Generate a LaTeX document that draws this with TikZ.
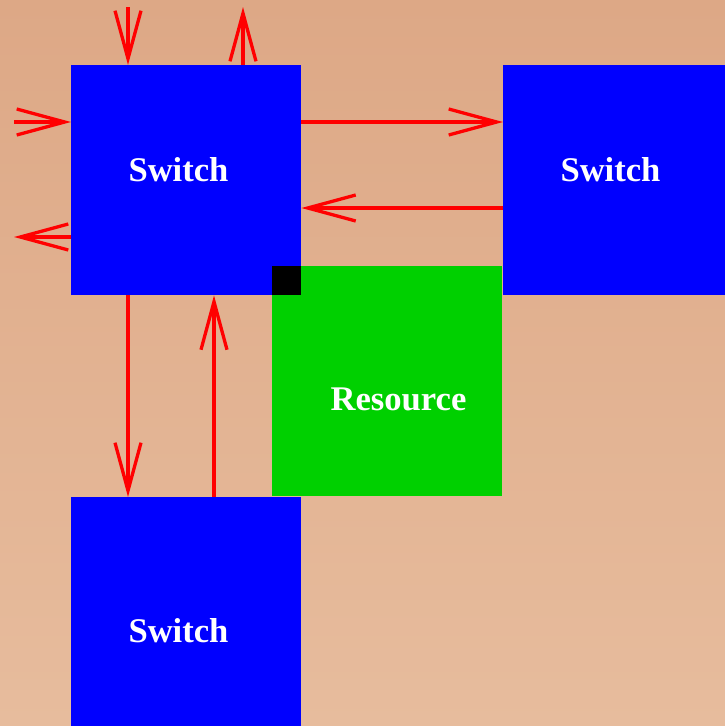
\documentclass[tikz,border=0pt]{standalone}
\usepackage{fontspec}
\setmainfont{Liberation Serif}
\usetikzlibrary{arrows.meta}
\definecolor{bgtop}{RGB}{221,168,134}
\definecolor{bgbot}{RGB}{231,188,157}
\definecolor{swblue}{RGB}{0,0,255}
\definecolor{resgreen}{RGB}{0,208,0}
\begin{document}
\begin{tikzpicture}[x=1pt,y=-1pt,
  box/.style={draw=none,rectangle,inner sep=0pt,minimum width=230pt,minimum height=230pt,anchor=north west},
  swbox/.style={box,fill=swblue},
  resbox/.style={box,fill=resgreen},
  portbox/.style={draw=none,fill=black,inner sep=0pt,minimum width=29pt,minimum height=29pt,anchor=north west},
  lbl/.style={text=white,font=\fontsize{34.6}{40}\selectfont\bfseries},
  arr/.style={draw=red,line width=3.3pt,-{Straight Barb[length=48pt,width=26pt,line width=3.3pt]}}]
\clip (0,0) rectangle (725,726);
\fill[top color=bgtop,bottom color=bgbot] (0,0) rectangle (725,726);
% boxes
\node[swbox] (s1) at (71,65) {};
\node[swbox] (s2) at (503,65) {};
\node[swbox] (s3) at (71,497) {};
\node[resbox] (r) at (272,266) {};
\node[portbox] (p) at (272,266) {};
% labels
\node[lbl] (l1) at (178.5,169.5) {Switch};
\node[lbl] (l2) at (610.5,169.5) {Switch};
\node[lbl] (l3) at (178.5,630.5) {Switch};
\node[lbl] (lr) at (398.5,399.5) {Resource};
% free ends
\coordinate (tin) at (128,7);
\coordinate (tout) at (243,7);
\coordinate (lin) at (14,122);
\coordinate (lout) at (14,237);
% arrows
\draw[arr] (tin) -- (tin |- s1.north);
\draw[arr] (tout |- s1.north) -- (tout);
\draw[arr] (lin) -- (lin -| s1.west);
\draw[arr] (lout -| s1.west) -- (lout);
\draw[arr] (s1.east |- 0,122) -- (s2.west |- 0,122);
\draw[arr] (s2.west |- 0,208) -- (s1.east |- 0,208);
\draw[arr] (s1.south -| 128,0) -- (s3.north -| 128,0);
\draw[arr] (s3.north -| 214,0) -- (s1.south -| 214,0);
\end{tikzpicture}
\end{document}
